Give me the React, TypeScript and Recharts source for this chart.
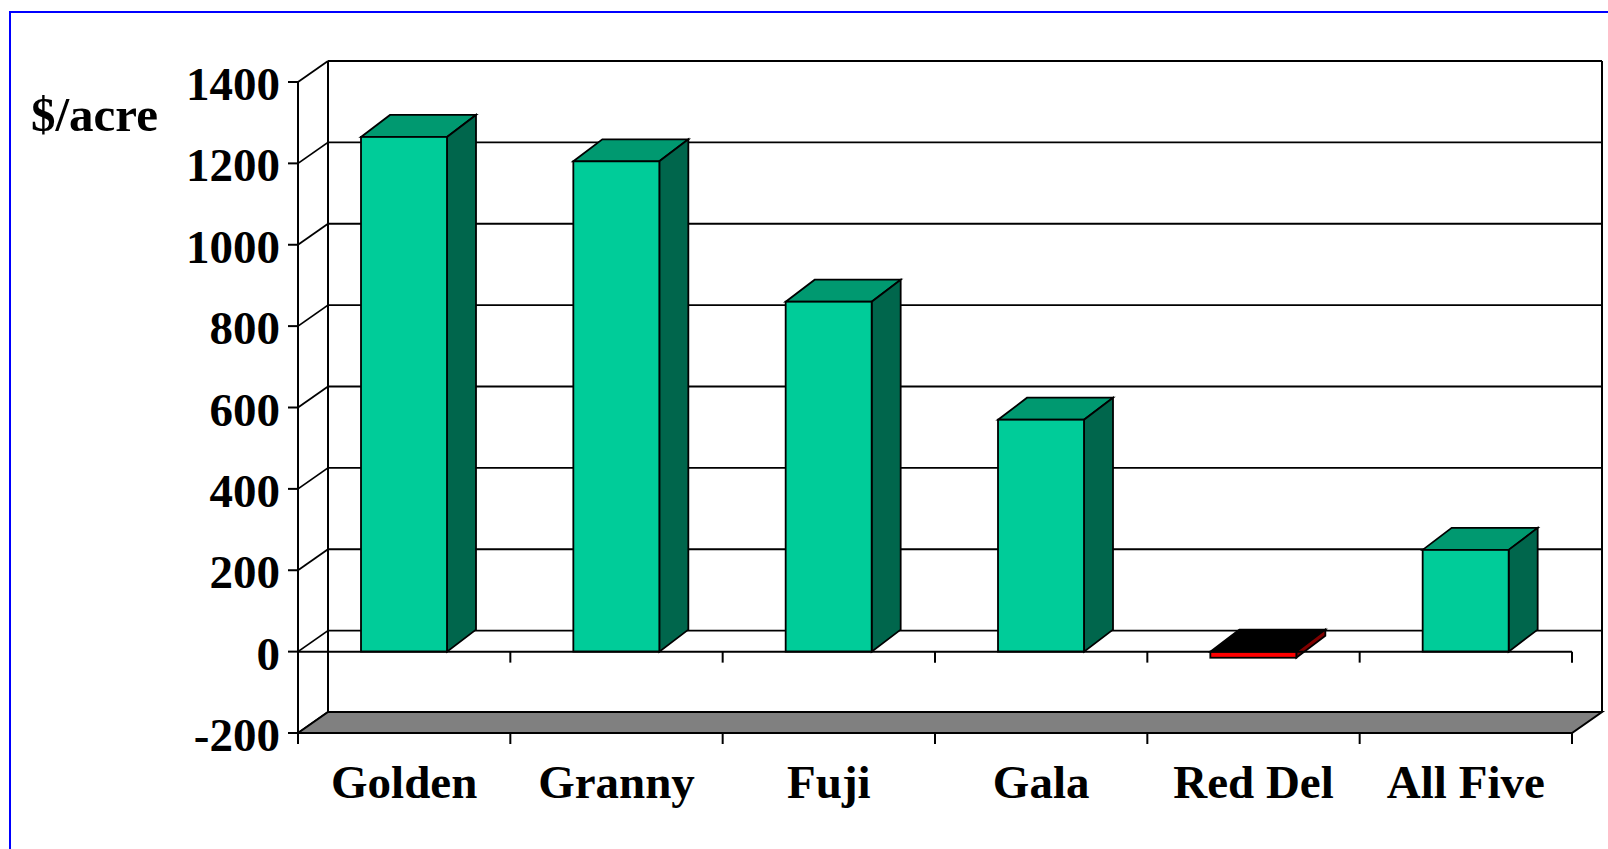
// 各品種每英畝收益的 3D 柱狀圖（仿 Excel 立體樣式）
import { BarChart, Bar, XAxis, YAxis, CartesianGrid, ReferenceArea, ReferenceLine } from 'recharts'

const CATEGORIES = ['Golden', 'Granny', 'Fuji', 'Gala', 'Red Del', 'All Five']
const VALUES = [1265, 1205, 860, 570, -15, 250]
const Y_TICKS = [-200, 0, 200, 400, 600, 800, 1000, 1200, 1400]
const Y_LABEL = '$/acre'

const data = CATEGORIES.map((name, i) => ({ name, value: VALUES[i] }))

// 背牆 / 地板的透視位移
const DX = 30
const DY = -21
// 柱體厚度
const BDX = 29
const BDY = -22

const FONT = '"Liberation Serif", "Times New Roman", serif'
const LINE = '#000'

const GREEN = { front: '#00CC99', top: '#009970', side: '#00664C' }
const RED = { front: '#FF0000', top: '#000000', side: '#800000' }

function Box3D(props: any) {
    const { x, y, width, height, payload } = props
    const c = payload.value < 0 ? RED : GREEN
    const top = Math.min(y, y + height)
    const bottom = Math.max(y, y + height)
    const r = x + width
    return (
        <g stroke={LINE} strokeWidth={1.8} strokeLinejoin="miter">
            <polygon
                points={`${x},${top} ${x + BDX},${top + BDY} ${r + BDX},${top + BDY} ${r},${top}`}
                fill={c.top}
            />
            <polygon
                points={`${r},${top} ${r + BDX},${top + BDY} ${r + BDX},${bottom + BDY} ${r},${bottom}`}
                fill={c.side}
            />
            <rect x={x} y={top} width={width} height={bottom - top} fill={c.front} />
        </g>
    )
}

// 背牆上的格線，加上由前方刻度斜連到背牆的線
function GridLine(p: any) {
    return (
        <g key={`grid-${p.index}`} stroke={LINE} strokeWidth={1.8}>
            <line x1={p.x1} y1={p.y1} x2={p.x1 + DX} y2={p.y1 + DY} />
            <line x1={p.x1 + DX} y1={p.y1 + DY} x2={p.x2 + DX} y2={p.y1 + DY} />
        </g>
    )
}

// 地板、背牆左右邊線、地板下方的分類刻度
function Frame(p: any) {
    const { x, y, width, height } = p
    const b = y + height
    const n = CATEGORIES.length
    return (
        <g stroke={LINE} strokeWidth={2}>
            <line x1={x + DX} y1={y + DY} x2={x + DX} y2={b + DY} />
            <line x1={x + width + DX} y1={y + DY} x2={x + width + DX} y2={b + DY} />
            <polygon
                points={`${x},${b} ${x + DX},${b + DY} ${x + width + DX},${b + DY} ${x + width},${b}`}
                fill="#808080"
            />
            {Array.from({ length: n + 1 }, (_, k) => {
                const tx = x + (width * k) / n
                return <line key={k} x1={tx} y1={b} x2={tx} y2={b + 11} />
            })}
        </g>
    )
}

// 零值的分類軸
function ZeroAxis(p: any) {
    const { x1, x2, y1 } = p
    const n = CATEGORIES.length
    return (
        <g stroke={LINE} strokeWidth={2}>
            <line x1={x1} y1={y1} x2={x2} y2={y1} />
            {Array.from({ length: n }, (_, k) => {
                const tx = x1 + ((x2 - x1) * (k + 1)) / n
                return <line key={k} x1={tx} y1={y1} x2={tx} y2={y1 + 11} />
            })}
        </g>
    )
}

function YTick(p: any) {
    return (
        <text x={p.x} y={p.y} dy={18} textAnchor="end" fontFamily={FONT} fontWeight="bold" fontSize={47} fill="#000">
            {p.payload.value}
        </text>
    )
}

function XTick(p: any) {
    return (
        <text x={p.x} y={p.y} dy={65} textAnchor="middle" fontFamily={FONT} fontWeight="bold" fontSize={47} fill="#000">
            {p.payload.value}
        </text>
    )
}

export default function App() {
    return (
        <div style={{ position: 'absolute', left: 0, top: 0, width: 1608, height: 849, background: '#fff' }}>
            <div
                style={{
                    position: 'absolute',
                    left: 9,
                    top: 11,
                    width: 1599,
                    height: 838,
                    borderLeft: '2px solid #0000FF',
                    borderTop: '2px solid #0000FF',
                    boxSizing: 'border-box',
                }}
            />
            <div style={{ position: 'absolute', left: 0, top: 0 }}>
                <BarChart
                    width={1608}
                    height={849}
                    data={data}
                    margin={{ top: 82, right: 36, bottom: 36, left: 218 }}
                    barSize={86}
                >
                    <CartesianGrid vertical={false} horizontal={GridLine} />
                    <XAxis
                        dataKey="name"
                        axisLine={false}
                        tickLine={false}
                        tickSize={0}
                        tickMargin={0}
                        height={80}
                        interval={0}
                        tick={XTick}
                    />
                    <YAxis
                        domain={[-200, 1400]}
                        ticks={Y_TICKS}
                        interval={0}
                        width={80}
                        axisLine={{ stroke: LINE, strokeWidth: 2 }}
                        tickLine={{ stroke: LINE, strokeWidth: 2 }}
                        tickSize={10}
                        tickMargin={8}
                        tick={YTick}
                        label={{
                            content: () => (
                                <text x={31} y={131} fontFamily={FONT} fontWeight="bold" fontSize={49} fill="#000">
                                    {Y_LABEL}
                                </text>
                            ),
                        }}
                    />
                    <ReferenceArea y1={-200} y2={1400} ifOverflow="visible" shape={Frame} />
                    <Bar dataKey="value" isAnimationActive={false} shape={Box3D} />
                    <ReferenceLine y={0} ifOverflow="visible" shape={ZeroAxis} />
                </BarChart>
            </div>
        </div>
    )
}
